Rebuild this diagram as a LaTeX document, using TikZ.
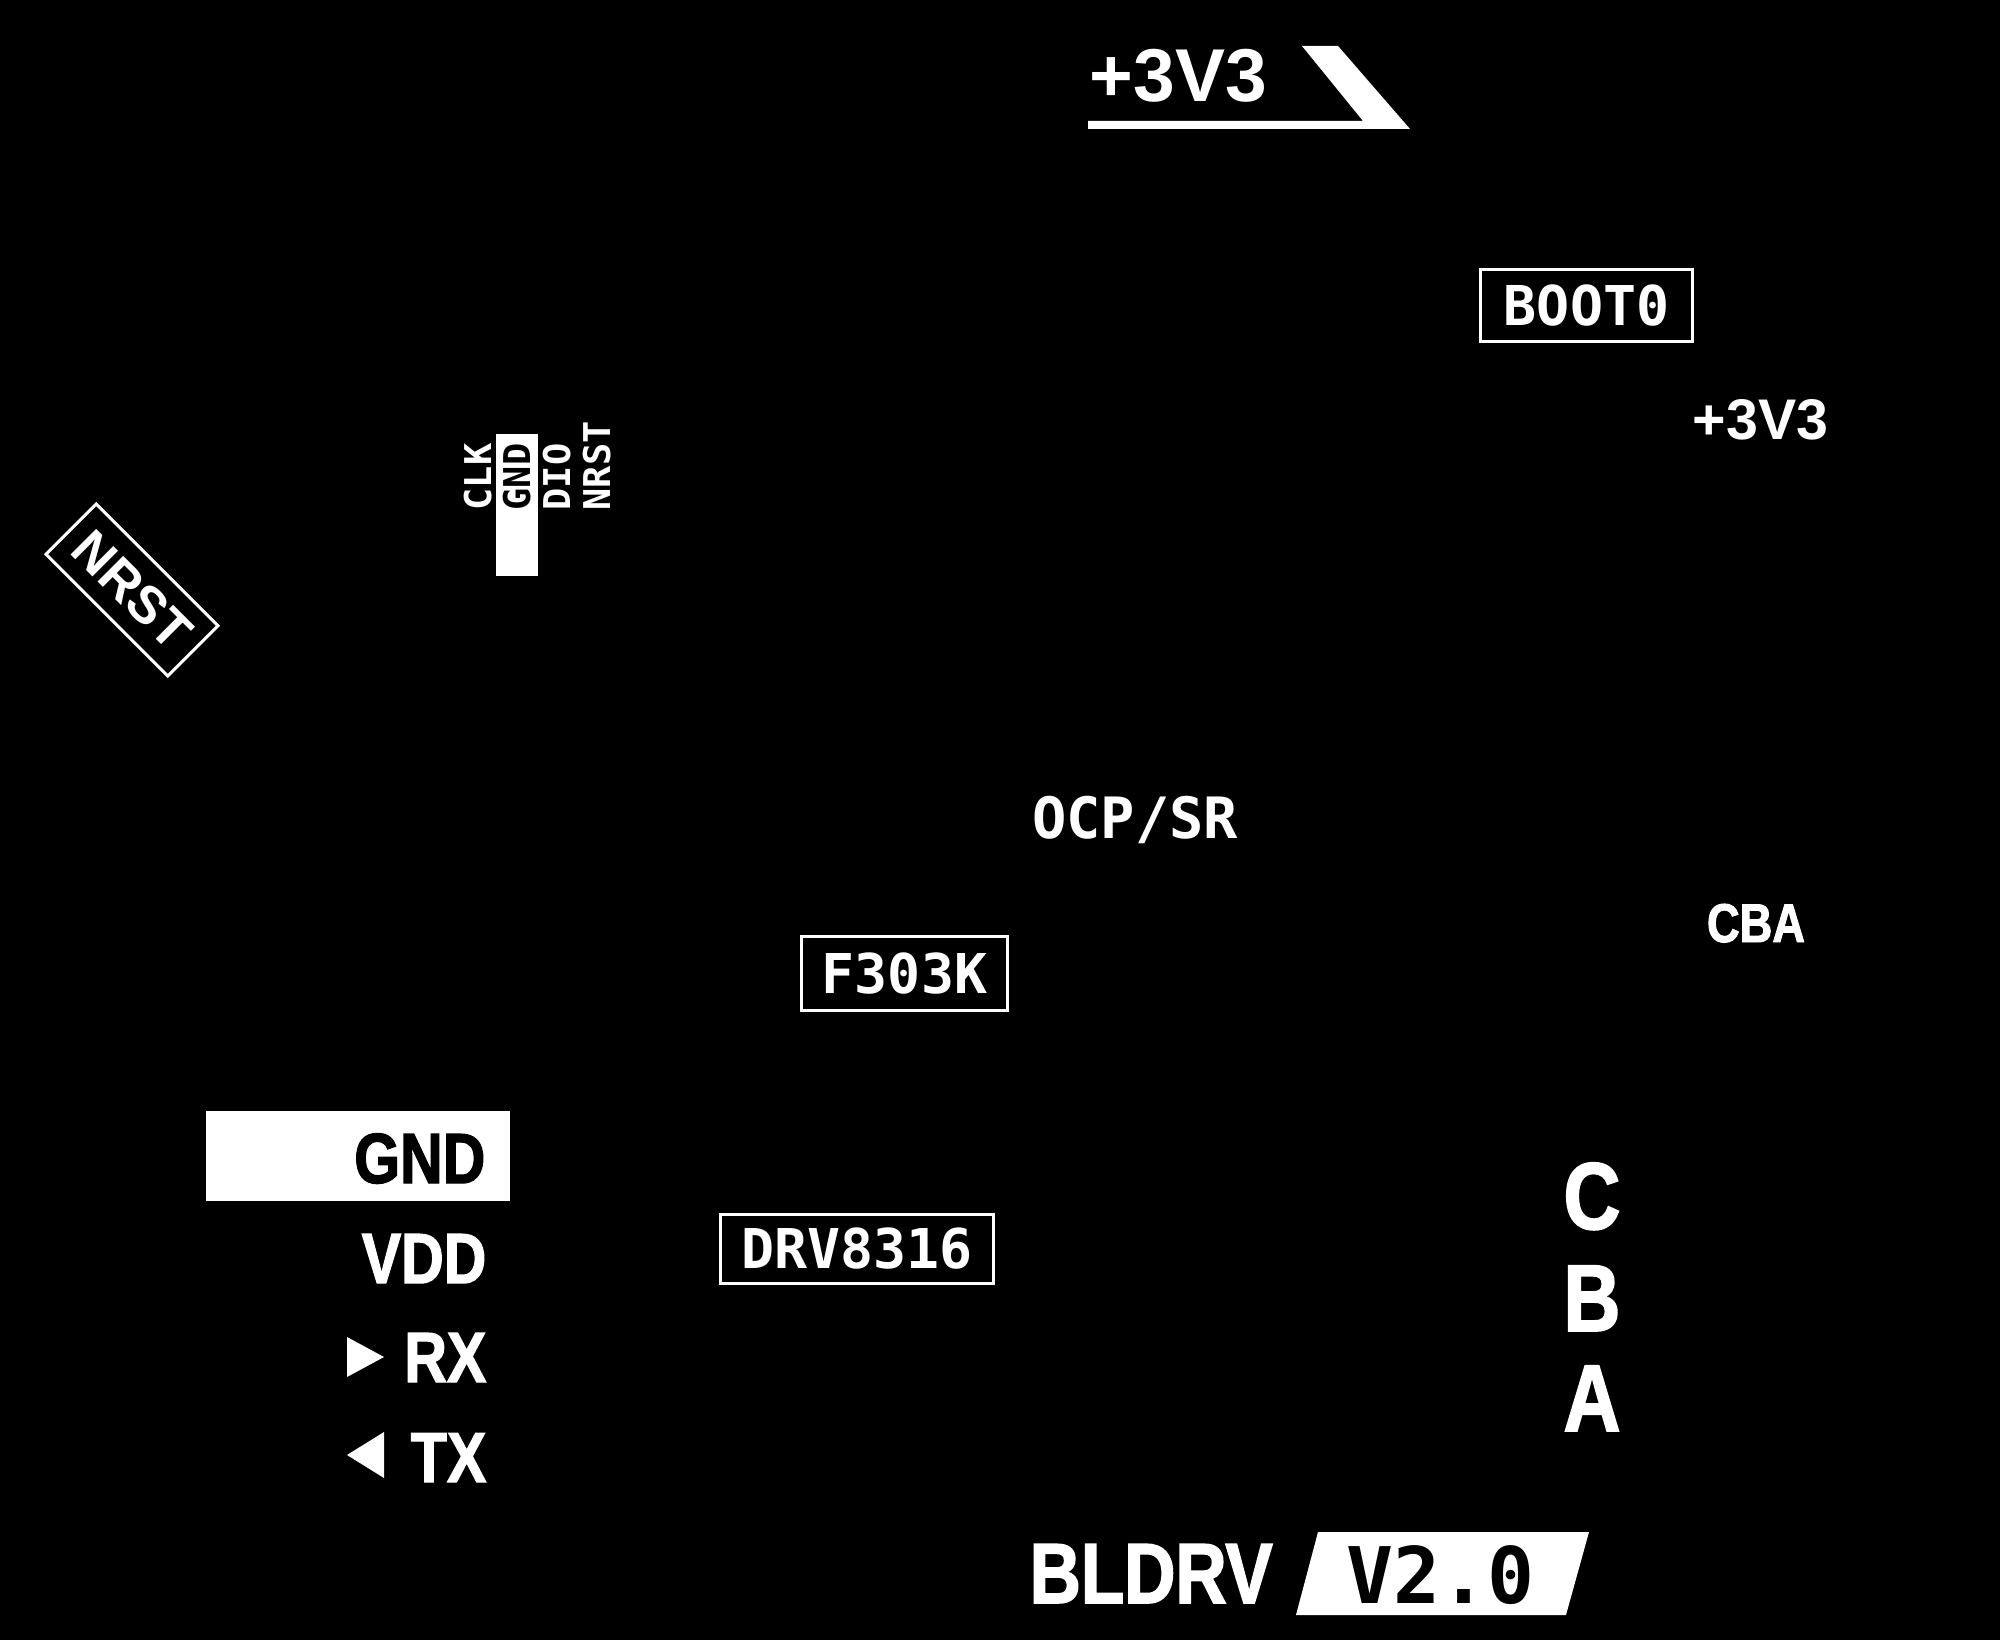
\documentclass[tikz,border=0pt]{standalone}
\usepackage{fontspec}
\setmainfont{Liberation Sans}
\newfontfamily\pcbmono{DejaVu Sans Mono}
\newfontfamily\pcbcond[FakeStretch=0.83, FakeBold=1.8]{Liberation Sans}
\newcommand{\fsz}[1]{\fontsize{#1}{#1}\selectfont}

\tikzset{
  silk/.style={text=white, inner sep=0pt},
  partbox/.style={draw=white, line width=0.85pt, text=white, inner sep=0pt, font=\pcbmono\bfseries\fsz{15.6pt}},
  pinlbl/.style={silk, rotate=90, anchor=base west, font=\pcbmono\bfseries\fsz{10.5pt}},
  uartlbl/.style={silk, anchor=base east, font=\pcbcond\bfseries\fsz{20.2pt}},
  phase/.style={silk, anchor=base, font=\pcbcond\bfseries\fsz{27pt}}
}

\begin{document}
\begin{tikzpicture}[x=0.01cm,y=-0.01cm]
\fill[black] (0,0) rectangle (2000,1640);
\useasboundingbox (0,0) rectangle (2000,1640);

% power
\node[silk, anchor=base west, font=\bfseries\fsz{21.3pt}] (pwr) at (1089,102) {+3V3};
\fill[white] (1088,121) -- (1363,121) -- (1302,46) -- (1338,46) -- (1410,129) -- (1088,129) -- cycle;
\node[partbox, minimum width=2.11cm, minimum height=0.71cm] (boot) at (1586.5,305.5) {BOOT0};
\node[silk, anchor=base west, font=\bfseries\fsz{16.3pt}] (pwrb) at (1692,440) {+3V3};

% swd
\node[silk, draw=white, line width=0.85pt, rotate=-45, minimum width=1.72cm, minimum height=0.71cm, font=\bfseries\fsz{15pt}] (nrst) at (132,590) {NRST};
\fill[white] (496,434) rectangle (538,576);
\foreach \x/\lbl in {491/CLK,570/DIO,610/NRST}
  \node[pinlbl] (swd\lbl) at (\x,511) {\lbl};
\node[pinlbl, text=black] (swdGND) at (530,511) {GND};

% parts
\node[silk, anchor=base, font=\pcbmono\bfseries\fsz{16.2pt}] (ocp) at (1135,838) {OCP/SR};
\node[silk, anchor=base, font=\pcbcond\bfseries\fsz{15.5pt}] (cba) at (1756,942) {CBA};
\node[partbox, minimum width=2.05cm, minimum height=0.73cm] (mcu) at (904.5,973.5) {F303K};
\node[partbox, minimum width=2.72cm, minimum height=0.68cm] (drv) at (857,1249) {DRV8316};

% uart
\fill[white] (206,1111) rectangle (510,1201);
\node[uartlbl, text=black] (gnd) at (486,1183) {GND};
\node[uartlbl] (vdd) at (487,1283) {VDD};
\node[uartlbl] (rx) at (487,1382) {RX};
\node[uartlbl] (tx) at (487,1482) {TX};
\fill[white] (347,1337) -- (384,1357) -- (347,1377) -- cycle;
\fill[white] (384,1432) -- (347,1455) -- (384,1478) -- cycle;

% phases
\foreach \y/\ph in {1229/C,1331/B,1431/A}
  \node[phase] (ph\ph) at (1592,\y) {\ph};

% title
\node[silk, anchor=base west, font=\pcbcond\bfseries\fsz{24.3pt}] (title) at (1029,1603) {BLDRV};
\fill[white] (1318,1532) -- (1589,1532) -- (1566,1615) -- (1296,1615) -- cycle;
\node[silk, text=black, anchor=base west, font=\pcbmono\bfseries\fsz{22.2pt}] (ver) at (1346,1603) {V2.0};
\end{tikzpicture}
\end{document}
